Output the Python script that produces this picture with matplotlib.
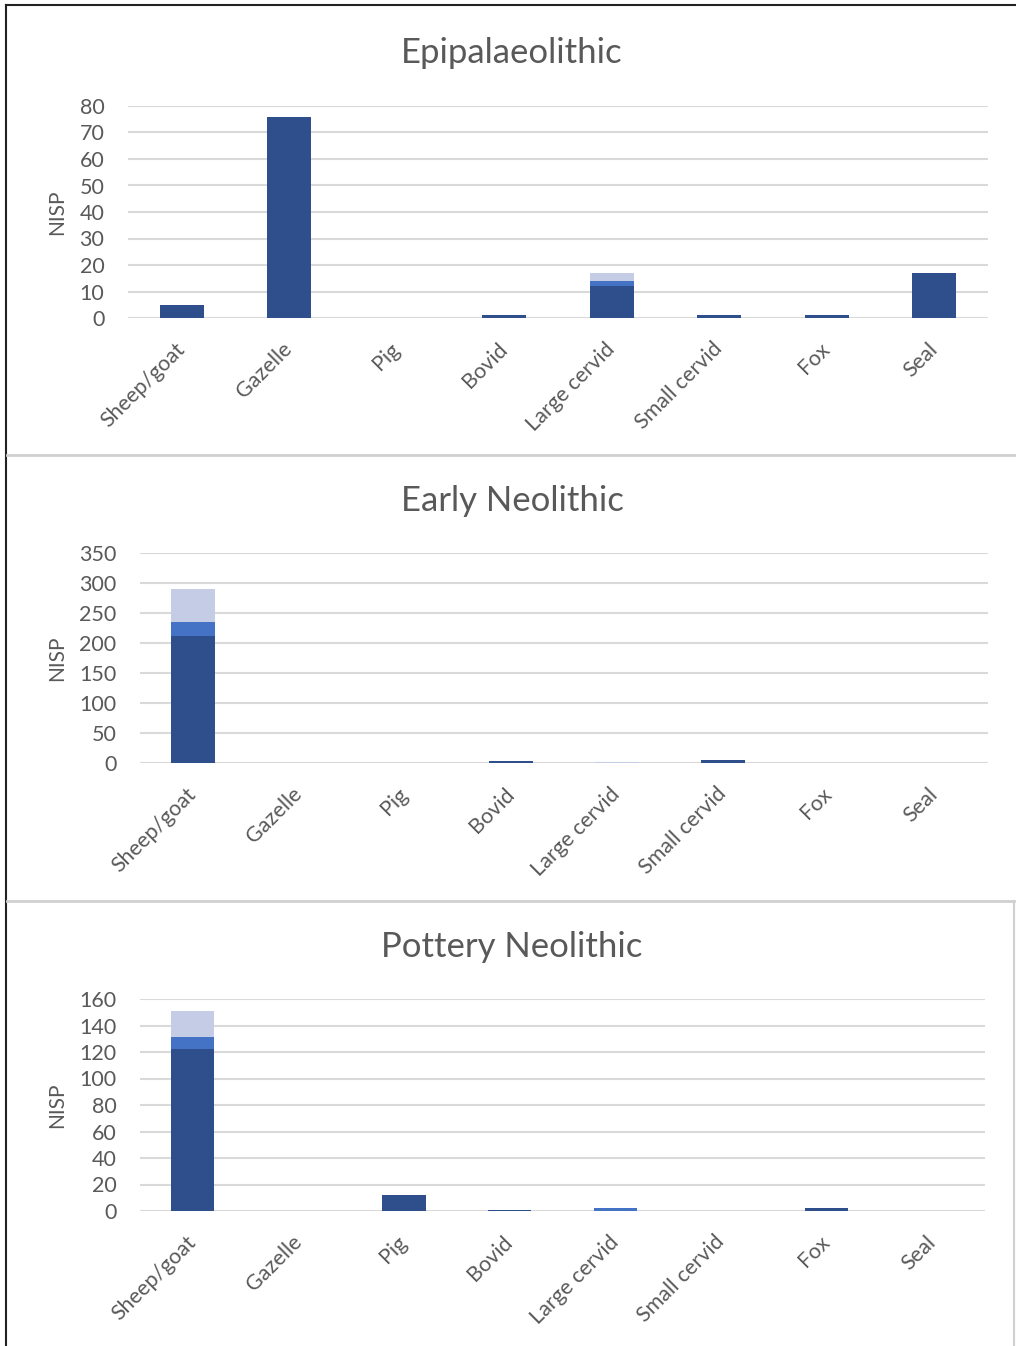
import matplotlib.pyplot as plt
from matplotlib.lines import Line2D
import numpy as np

plt.rcParams['font.family'] = ['Lato', 'DejaVu Sans']

categories = ['Sheep/goat', 'Gazelle', 'Pig', 'Bovid', 'Large cervid', 'Small cervid', 'Fox', 'Seal']

# three stacked series per period: dark (bottom), mid blue, light (top)
epi_dark = [5, 76, 0, 1, 12, 1, 1, 17]
epi_mid = [0, 0, 0, 0, 2, 0, 0, 0]
epi_light = [0, 0, 0, 0, 3, 0, 0, 0]

early_dark = [212, 0, 0, 4, 0, 5, 0, 0]
early_mid = [23, 0, 0, 0, 0, 0, 0, 0]
early_light = [55, 0, 0, 0, 2, 0, 0, 0]

pot_dark = [122, 0, 12, 1, 0, 0, 2, 0]
pot_mid = [9, 0, 0, 0, 2, 0, 0, 0]
pot_light = [20, 0, 0, 0, 0, 0, 0, 0]

titles = ['Epipalaeolithic', 'Early Neolithic', 'Pottery Neolithic']
ymaxes = [80, 350, 160]
ysteps = [10, 50, 20]

C_DARK = '#2F4F8C'
C_MID = '#4472C4'
C_LIGHT = '#C5CCE5'
GRID = '#D9D9D9'
TXT = '#595959'

W, H = 1016, 1346
fig = plt.figure(figsize=(W / 100, H / 100), dpi=100)

# plot areas in pixels: left, right, top (ymax), bottom (0)
boxes = [(128, 988, 106, 318), (140, 988, 553, 763), (140, 985, 999, 1211)]
title_y = [53, 501, 947]
nisp_y = [212, 658, 1105]

data = [(epi_dark, epi_mid, epi_light),
        (early_dark, early_mid, early_light),
        (pot_dark, pot_mid, pot_light)]

x = np.arange(len(categories))
for i, (l, r, t, b) in enumerate(boxes):
    ax = fig.add_axes([l / W, 1 - b / H, (r - l) / W, (b - t) / H])
    dark, mid, light = data[i]
    dark = np.array(dark)
    mid = np.array(mid)
    light = np.array(light)
    ax.bar(x, dark, width=0.41, color=C_DARK, zorder=3)
    ax.bar(x, mid, width=0.41, bottom=dark, color=C_MID, zorder=3)
    ax.bar(x, light, width=0.41, bottom=dark + mid, color=C_LIGHT, zorder=3)
    ax.set_xlim(-0.5, len(categories) - 0.5)
    ax.set_ylim(0, ymaxes[i])
    ax.set_yticks(np.arange(0, ymaxes[i] + 1, ysteps[i]))
    ax.yaxis.grid(True, color=GRID, linewidth=1.5, zorder=0)
    ax.set_axisbelow(True)
    for s in ax.spines.values():
        s.set_visible(False)
    ax.tick_params(length=0, labelsize=15.5, labelcolor=TXT)
    ax.tick_params(axis='y', pad=17)
    ax.set_xticks(x)
    ax.set_xticklabels(categories, rotation=45, ha='right', va='center',
                       rotation_mode='anchor', fontsize=15.5, color=TXT)
    ax.tick_params(axis='x', pad=20)
    fig.text(512 / W, 1 - title_y[i] / H, titles[i], ha='center', va='center',
             fontsize=25, color=TXT)
    fig.text(57 / W, 1 - nisp_y[i] / H, 'NISP', ha='center', va='center',
             rotation=90, fontsize=15, color=TXT)

# screenshot frame lines
def px_line(x0, y0, x1, y1, color, lw):
    fig.add_artist(Line2D([x0 / W, x1 / W], [1 - y0 / H, 1 - y1 / H],
                          transform=fig.transFigure, color=color, linewidth=lw))

px_line(6, 5, 1016, 5, '#222222', 1.5)
px_line(6, 5, 6, 1346, '#222222', 1.5)
px_line(7, 455, 1016, 455, '#D0D0D0', 2)
px_line(7, 901, 1014, 901, '#D0D0D0', 2)
px_line(1014, 901, 1014, 1346, '#D0D0D0', 1.5)

fig.savefig('out.png', dpi=100, facecolor='white')
